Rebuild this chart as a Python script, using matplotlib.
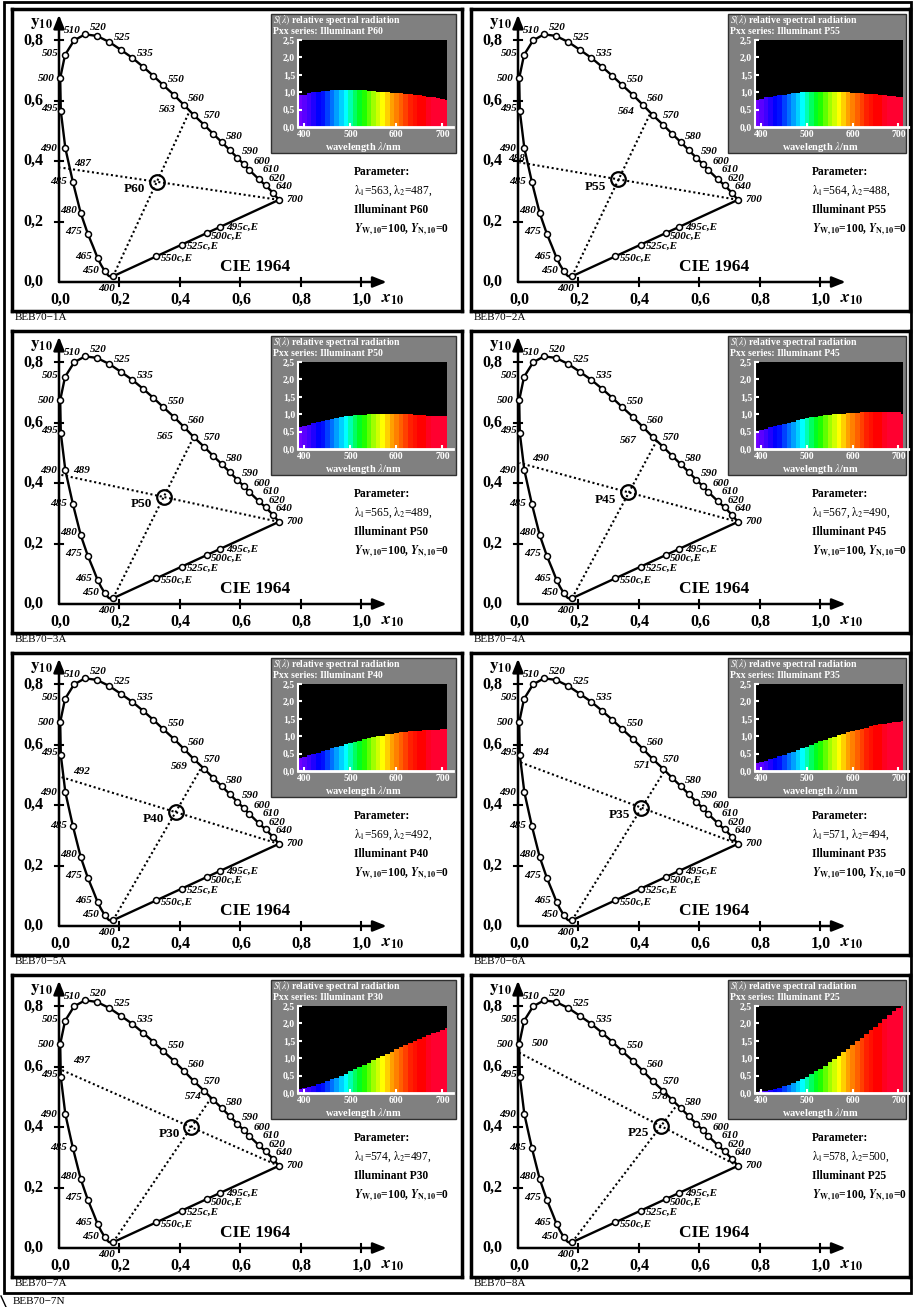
import numpy as np
import matplotlib.pyplot as plt
from matplotlib.patches import Rectangle
from matplotlib.lines import Line2D

plt.rcParams['font.family'] = ['Liberation Serif', 'DejaVu Serif']
plt.rcParams['mathtext.fontset'] = 'stix'

W, H = 913, 1307

# CIE 1964 spectral locus (x10, y10)
locus_nm = [400, 410, 420, 430, 440, 450, 460, 465, 470, 475, 480, 485, 490, 495, 500, 505, 510, 515, 520, 525,
            530, 535, 540, 545, 550, 555, 560, 565, 570, 575, 580, 585, 590, 595, 600, 610, 620, 640, 700]
locus_x = [0.179, 0.176, 0.171, 0.165, 0.159, 0.151, 0.139, 0.128, 0.113, 0.096, 0.072, 0.046, 0.021, 0.006, 0.004,
           0.020, 0.050, 0.086, 0.125, 0.166, 0.206, 0.243, 0.278, 0.312, 0.345, 0.380, 0.413, 0.446, 0.480, 0.510,
           0.539, 0.565, 0.590, 0.611, 0.630, 0.661, 0.684, 0.708, 0.728]
locus_y = [0.019, 0.018, 0.018, 0.020, 0.026, 0.037, 0.057, 0.079, 0.117, 0.158, 0.228, 0.331, 0.443, 0.566, 0.675,
           0.752, 0.800, 0.820, 0.815, 0.795, 0.768, 0.742, 0.713, 0.683, 0.652, 0.620, 0.587, 0.553, 0.521, 0.491,
           0.463, 0.437, 0.412, 0.391, 0.371, 0.341, 0.320, 0.296, 0.272]
unmarked_nm = [410, 420, 430, 440, 460, 470]

# wavelength labels and where they sit
label_pos = {400: (0.156, -0.022), 450: (0.105, 0.037), 465: (0.083, 0.084), 475: (0.050, 0.167),
             480: (0.031, 0.236), 485: (-0.002, 0.334), 490: (-0.033, 0.443), 495: (-0.030, 0.575),
             500: (-0.043, 0.675), 505: (-0.030, 0.755), 510: (0.045, 0.834), 520: (0.130, 0.843),
             525: (0.211, 0.809), 535: (0.287, 0.755), 550: (0.387, 0.672), 560: (0.456, 0.606),
             570: (0.508, 0.550), 580: (0.580, 0.483), 590: (0.632, 0.431), 600: (0.671, 0.398),
             610: (0.701, 0.374), 620: (0.723, 0.343), 640: (0.746, 0.316), 700: (0.781, 0.272)}

# complementary points on the purple line
purple_lab = ['550c,E', '525c,E', '500c,E', '495c,E']
purple_x = [0.322, 0.407, 0.490, 0.534]
purple_y = [0.085, 0.124, 0.162, 0.183]
purple_lab_pos = [(0.390, 0.077), (0.475, 0.117), (0.556, 0.150), (0.608, 0.181)]

# illuminants
names = ['P60', 'P55', 'P50', 'P45', 'P40', 'P35', 'P30', 'P25']
lam1 = [563, 564, 565, 567, 569, 571, 574, 578]
lam2 = [487, 488, 489, 490, 492, 494, 497, 500]
ill_x = [0.324, 0.331, 0.347, 0.364, 0.386, 0.408, 0.438, 0.473]
ill_y = [0.332, 0.340, 0.354, 0.370, 0.377, 0.392, 0.400, 0.404]
lam1_x = [0.433, 0.439, 0.446, 0.459, 0.473, 0.486, 0.504, 0.527]
lam1_y = [0.567, 0.560, 0.553, 0.540, 0.527, 0.515, 0.497, 0.474]
lam2_x = [0.005, 0.005, 0.005, 0.005, 0.005, 0.005, 0.005, 0.005]
lam2_y = [0.379, 0.396, 0.428, 0.467, 0.494, 0.543, 0.591, 0.646]
lam1_lab_off = [(-0.076, 0.003), (-0.08, 0.005), (-0.095, 0.0), (-0.095, 0.0),
                (-0.075, 0.0), (-0.076, 0.015), (-0.06, 0.004), (-0.056, 0.028)]
lam2_lab_off = [(0.072, 0.015), (-0.01, 0.014), (0.07, 0.015), (0.07, 0.015),
                (0.07, 0.018), (0.07, 0.03), (0.07, 0.03), (0.07, 0.03)]

# relative spectral radiation S(lambda), 390..710 nm in 10 nm steps
spec_nm = [390, 400, 410, 420, 430, 440, 450, 460, 470, 480, 490, 500, 510, 520, 530, 540, 550,
           560, 570, 580, 590, 600, 610, 620, 630, 640, 650, 660, 670, 680, 690, 700, 710]
s_p60 = [0.92, 0.93, 0.97, 1.00, 1.02, 1.03, 1.04, 1.05, 1.05, 1.05, 1.05, 1.05, 1.05, 1.05, 1.05, 1.04, 1.03,
         1.02, 1.01, 1.00, 0.99, 0.98, 0.97, 0.95, 0.94, 0.93, 0.91, 0.89, 0.87, 0.85, 0.83, 0.81, 0.79]
s_p55 = [0.78, 0.80, 0.85, 0.87, 0.89, 0.91, 0.93, 0.95, 0.97, 0.98, 1.00, 1.01, 1.02, 1.02, 1.02, 1.02, 1.02,
         1.02, 1.01, 1.01, 1.00, 0.99, 0.98, 0.97, 0.96, 0.95, 0.94, 0.93, 0.92, 0.90, 0.88, 0.86, 0.85]
s_p50 = [0.62, 0.66, 0.70, 0.74, 0.77, 0.80, 0.83, 0.86, 0.89, 0.92, 0.94, 0.96, 0.97, 0.98, 0.99, 1.00, 1.00,
         1.01, 1.02, 1.02, 1.02, 1.02, 1.01, 1.00, 1.00, 0.99, 0.98, 0.97, 0.96, 0.95, 0.95, 0.94, 0.94]
s_p45 = [0.50, 0.54, 0.58, 0.62, 0.66, 0.69, 0.72, 0.76, 0.79, 0.82, 0.85, 0.88, 0.91, 0.93, 0.95, 0.97, 0.99,
         1.00, 1.01, 1.02, 1.03, 1.04, 1.04, 1.05, 1.05, 1.05, 1.05, 1.05, 1.05, 1.05, 1.05, 1.05, 1.02]
s_p40 = [0.36, 0.40, 0.45, 0.49, 0.53, 0.57, 0.61, 0.65, 0.69, 0.73, 0.77, 0.80, 0.84, 0.87, 0.91, 0.94, 0.97,
         1.00, 1.02, 1.05, 1.07, 1.09, 1.11, 1.12, 1.14, 1.15, 1.16, 1.17, 1.18, 1.19, 1.19, 1.20, 1.20]
s_p35 = [0.24, 0.27, 0.30, 0.34, 0.38, 0.42, 0.47, 0.51, 0.56, 0.61, 0.65, 0.70, 0.75, 0.80, 0.85, 0.89, 0.94,
         0.99, 1.03, 1.07, 1.11, 1.15, 1.18, 1.21, 1.25, 1.28, 1.31, 1.34, 1.36, 1.38, 1.40, 1.42, 1.44]
s_p30 = [0.12, 0.14, 0.17, 0.21, 0.25, 0.29, 0.34, 0.39, 0.44, 0.50, 0.56, 0.62, 0.68, 0.74, 0.81, 0.87, 0.94,
         1.00, 1.07, 1.13, 1.19, 1.26, 1.32, 1.38, 1.44, 1.50, 1.55, 1.61, 1.66, 1.71, 1.76, 1.81, 1.86]
s_p25 = [0.03, 0.05, 0.07, 0.09, 0.12, 0.15, 0.19, 0.23, 0.28, 0.34, 0.40, 0.47, 0.54, 0.62, 0.70, 0.79, 0.88,
         0.97, 1.07, 1.17, 1.27, 1.37, 1.48, 1.58, 1.69, 1.80, 1.91, 2.02, 2.13, 2.24, 2.35, 2.45, 2.50]
spectra = [s_p60, s_p55, s_p50, s_p45, s_p40, s_p35, s_p30, s_p25]

bar_colors = ['#7000ff', '#5a00ff', '#4000ff', '#2000ff', '#0000ff', '#0010ff', '#0040ff', '#0070ff', '#00a0ff',
              '#00d0ff', '#00ffff', '#00ffb0', '#00ff60', '#00ff20', '#20ff00', '#60ff00', '#a0ff00', '#d0ff00',
              '#ffff00', '#ffd000', '#ffa000', '#ff8000', '#ff6000', '#ff4000', '#ff2000', '#ff1000', '#ff0000',
              '#ff0000', '#ff0020', '#ff0030', '#ff0030', '#ff0030', '#ff0030']


def fx(px):
    return px / W


def fy(py):
    return 1 - py / H


fig = plt.figure(figsize=(W / 100, H / 100), dpi=100)

S = 302.0  # pixels per chromaticity unit
LAB = 8.0  # wavelength label size


def draw_panel(k, r, c):
    L, R = 12 + 459 * c, 462 + 448 * c
    T, B = 9 + 322 * r, 311 + 322 * r
    x0, y0 = 59 + 459 * c, 282 + 322 * r
    ax = fig.add_axes([fx(L), fy(B), (R - L) / W, (B - T) / H])
    ax.set_xlim((L - x0) / S, (R - x0) / S)
    ax.set_ylim((y0 - B) / S, (y0 - T) / S)
    ax.set_xticks([])
    ax.set_yticks([])
    for sp in ax.spines.values():
        sp.set_linewidth(2.5)

    # axes with arrows
    arr = dict(arrowstyle='-|>,head_length=0.45,head_width=0.18', mutation_scale=18, lw=1.8,
               color='k', shrinkA=0, shrinkB=0)
    ax.annotate('', xy=(1.085, 0), xytext=(0, 0), arrowprops=arr)
    ax.annotate('', xy=(0, 0.885), xytext=(0, 0), arrowprops=arr)
    for v in [0.2, 0.4, 0.6, 0.8, 1.0]:
        ax.plot([v, v], [-0.013, 0.013], color='k', lw=1.5)
    for v in [0.2, 0.4, 0.6, 0.8]:
        ax.plot([-0.013, 0.013], [v, v], color='k', lw=1.5)
    for v in [0.0, 0.2, 0.4, 0.6, 0.8, 1.0]:
        ax.text(v + 0.003, -0.058, ('%.1f' % v).replace('.', ','), fontsize=11.5, fontweight='bold',
                ha='center', va='center')
    for v in [0.0, 0.2, 0.4, 0.6, 0.8]:
        ax.text(-0.085, v, ('%.1f' % v).replace('.', ','), fontsize=11.5, fontweight='bold',
                ha='center', va='center')
    ax.text(-0.057, 0.859, r'$\mathbf{y}_{\mathbf{10}}$', fontsize=12.5, ha='center', va='center')
    ax.text(1.105, -0.057, r'$\mathbfit{x}_{\mathbf{10}}$', fontsize=12.5, ha='center', va='center')

    # spectral locus and purple line
    ax.plot(locus_x, locus_y, color='k', lw=1.7, zorder=3)
    ax.plot([locus_x[-1], locus_x[0]], [locus_y[-1], locus_y[0]], color='k', lw=1.7, zorder=3)
    mx = [x for n, x in zip(locus_nm, locus_x) if n not in unmarked_nm]
    my = [y for n, y in zip(locus_nm, locus_y) if n not in unmarked_nm]
    ax.plot(mx, my, 'o', ms=4.3, mfc='white', mec='k', mew=1.1, ls='none', zorder=5)
    ax.plot(purple_x, purple_y, 'o', ms=4.3, mfc='white', mec='k', mew=1.1, ls='none', zorder=5)
    for n, (lx, ly) in label_pos.items():
        ax.text(lx, ly, str(n), fontsize=LAB, fontweight='bold', style='italic', ha='center', va='center')
    for t, (lx, ly) in zip(purple_lab, purple_lab_pos):
        ax.text(lx, ly, t, fontsize=8, fontweight='bold', style='italic', ha='center', va='center')

    # dotted construction lines
    ax.plot([locus_x[0], lam1_x[k]], [locus_y[0], lam1_y[k]], color='k', lw=1.5, ls=(0, (1, 1.3)), zorder=2)
    ax.plot([locus_x[-1], lam2_x[k]], [locus_y[-1], lam2_y[k]], color='k', lw=1.5, ls=(0, (1, 1.3)), zorder=2)
    ax.text(lam1_x[k] + lam1_lab_off[k][0], lam1_y[k] + lam1_lab_off[k][1], str(lam1[k]), fontsize=LAB,
            fontweight='bold', style='italic', ha='center', va='center')
    ax.text(lam2_x[k] + lam2_lab_off[k][0], lam2_y[k] + lam2_lab_off[k][1], str(lam2[k]), fontsize=LAB,
            fontweight='bold', style='italic', ha='center', va='center')
    ax.plot(ill_x[k], ill_y[k], 'o', ms=10.5, mfc='none', mec='k', mew=1.6, zorder=6)
    ax.text(ill_x[k] - 0.073, ill_y[k] - 0.024, names[k], fontsize=9.5, fontweight='bold',
            ha='center', va='center')
    ax.text(0.649, 0.051, 'CIE 1964', fontsize=12.5, fontweight='bold', ha='center', va='center')

    # parameter text
    px = 354 + 458 * c
    fs = 8.3
    fig.text(fx(px), fy(172 + 322 * r), 'Parameter:', fontsize=fs, fontweight='bold', va='center')
    fig.text(fx(px), fy(191 + 322 * r), r'$\mathrm{\lambda}_1$=%d, $\mathrm{\lambda}_2$=%d,' % (lam1[k], lam2[k]),
             fontsize=fs, va='center')
    fig.text(fx(px), fy(210 + 322 * r), 'Illuminant ' + names[k], fontsize=fs, fontweight='bold', va='center')
    fig.text(fx(px), fy(229 + 322 * r), r'$\mathbfit{Y}_{\mathbf{W,10}}$=100, $\mathbfit{Y}_{\mathbf{N,10}}$=0',
             fontsize=fs, fontweight='bold', va='center')

    # inset with spectrum
    gl, gr = (271, 456) if c == 0 else (728, 906)
    bl, br = (298, 447) if c == 0 else (755, 903)
    gt, gb = 14 + 322 * r, 153 + 322 * r
    bt, bb = 40 + 322 * r, 127 + 322 * r
    fig.add_artist(Rectangle((fx(gl), fy(gb)), (gr - gl) / W, (gb - gt) / H, transform=fig.transFigure,
                             facecolor='#808080', edgecolor='#303030', lw=1.0, zorder=1))
    ins = fig.add_axes([fx(bl), fy(bb), (br - bl) / W, (bb - bt) / H], zorder=2)
    ins.set_facecolor('black')
    ins.bar(spec_nm, spectra[k], width=10, color=bar_colors, align='center')
    ins.set_xlim(386, 710)
    ins.set_ylim(0, 2.5)
    for s in ['top', 'right', 'bottom']:
        ins.spines[s].set_visible(False)
    ins.spines['left'].set_color('white')
    ins.spines['left'].set_linewidth(1.5)
    ins.add_line(Line2D([0, 1.04], [0, 0], transform=ins.transAxes, color='white', lw=2, clip_on=False))
    ins.set_xticks([400, 500, 600, 700])
    ins.set_xticklabels(['400', '500', '600', '700'], fontweight='bold')
    ins.set_yticks([0, 0.5, 1.0, 1.5, 2.0, 2.5])
    ins.set_yticklabels(['0,0', '0,5', '1,0', '1,5', '2,0', '2,5'], fontweight='bold')
    ins.tick_params(colors='white', direction='in', length=3, width=1.5, labelsize=7, pad=2)
    tx = gl + 2
    fig.text(fx(tx), fy(gt + 6), r'$S(\lambda)$ relative spectral radiation', color='white', fontsize=7,
             fontweight='bold', va='center', zorder=3)
    fig.text(fx(tx), fy(gt + 18), 'Pxx series: Illuminant ' + names[k], color='white', fontsize=7,
             fontweight='bold', va='center', zorder=3)
    fig.text(fx((bl + br) / 2 - 9), fy(gb - 6), r'wavelength $\lambda$/nm', color='white', fontsize=7.5,
             fontweight='bold', ha='center', va='center', zorder=3)

    fig.text(fx(L + 3), fy(B + 7), 'BEB70\u2212%dA' % (k + 1), fontsize=8, va='center')


for k in range(8):
    draw_panel(k, k // 2, k % 2)

# outer frame and sheet label
fig.add_artist(Rectangle((fx(4), fy(1293)), 907 / W, 1291 / H, transform=fig.transFigure,
                         fill=False, edgecolor='k', lw=2, zorder=5))
fig.add_artist(Line2D([fx(1), fx(6)], [fy(1296), fy(1307)], transform=fig.transFigure, color='k', lw=1))
fig.text(fx(13), fy(1301), 'BEB70\u22127N', fontsize=8, va='center')

fig.savefig('out.png', dpi=100)
